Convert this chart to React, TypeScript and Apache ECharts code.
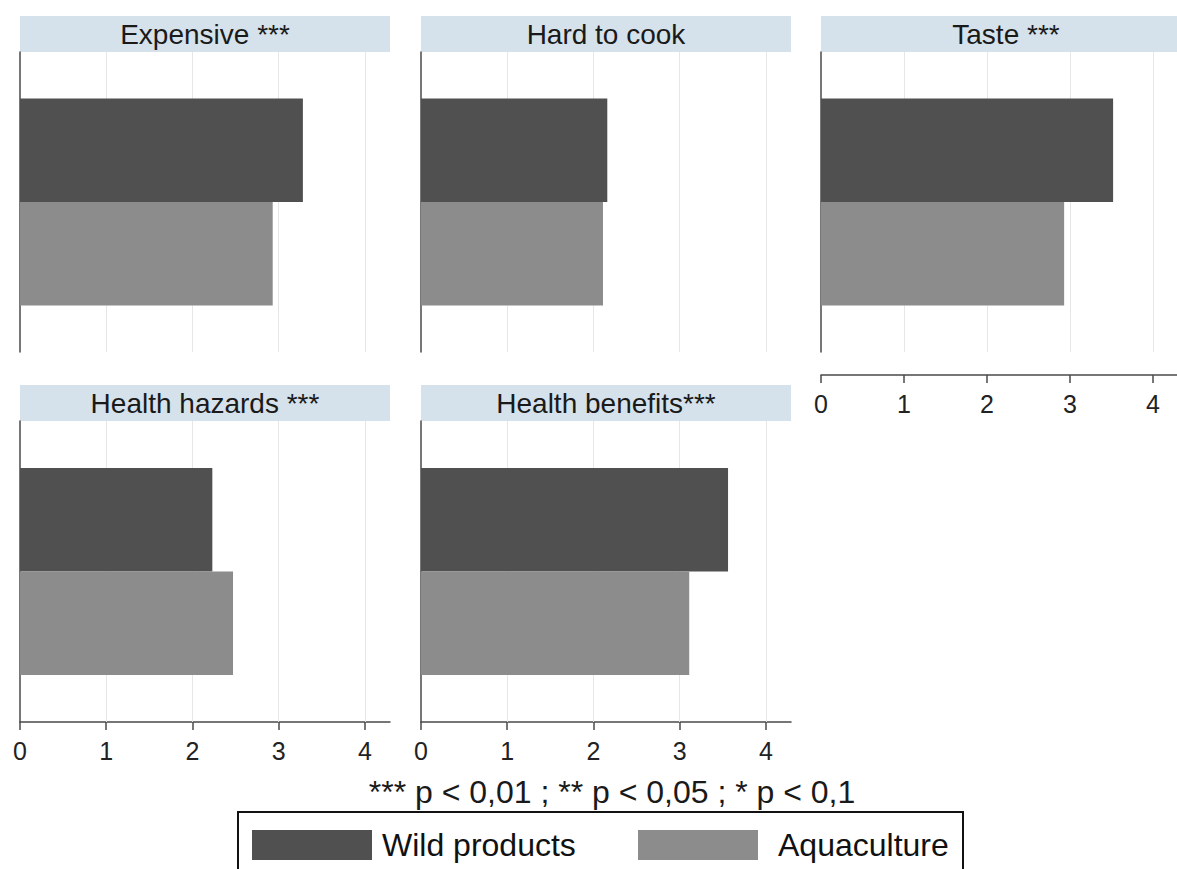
import React, { useEffect, useRef } from 'react';
import * as echarts from 'echarts';

// ---------- data ----------
const PANELS = ['Expensive ***', 'Hard to cook', 'Taste ***', 'Health hazards ***', 'Health benefits***'];
const SERIES_NAMES = ['Wild products', 'Aquaculture'];
const WILD = [3.28, 2.16, 3.52, 2.23, 3.56];
const AQUA = [2.93, 2.11, 2.93, 2.47, 3.11];
const TICKS = [0, 1, 2, 3, 4];
const GRIDLINES = [1, 2, 3, 4];
const NOTE = '*** p < 0,01 ; ** p < 0,05 ; * p < 0,1';
const X_MAX = 4.29;

// ---------- layout / style ----------
const FONT = "'Liberation Sans', Arial, sans-serif";
const COL_X = [20, 421, 821];
const PLOT_W = 370;
const STRIP_TOP = [16, 385];
const STRIP_H = 36;
const PLOT_H = [300, 301];
const AXIS_PANELS = [2, 3, 4];
const AXIS_OFFSET = [0, 0, 23, 0, 0];
const COLORS = ['#505050', '#8c8c8c'];
const AXIS_COLOR = '#4a4a4a';
const GRID_COLOR = '#e6e6e6';
const STRIP_COLOR = '#d6e2eb';

export default function App() {
  const ref = useRef<HTMLDivElement>(null);

  useEffect(() => {
    if (!ref.current) return;
    const chart = echarts.init(ref.current, undefined, { renderer: 'svg' });

    const grids: any[] = [];
    const xAxes: any[] = [];
    const yAxes: any[] = [];
    const series: any[] = [];
    const titles: any[] = [];
    const graphics: any[] = [];

    PANELS.forEach((name, i) => {
      const row = i < 3 ? 0 : 1;
      const col = i % 3;
      const left = COL_X[col];
      const top = STRIP_TOP[row] + STRIP_H;
      grids.push({ left, top, width: PLOT_W, height: PLOT_H[row] });
      const showAxis = AXIS_PANELS.includes(i);
      xAxes.push({
        type: 'value',
        gridIndex: i,
        min: 0,
        max: X_MAX,
        interval: 1,
        offset: AXIS_OFFSET[i],
        axisLine: { show: showAxis, onZero: false, lineStyle: { color: AXIS_COLOR, width: 1.5 } },
        axisTick: { show: showAxis, length: 8, customValues: TICKS, lineStyle: { color: AXIS_COLOR, width: 1.5 } },
        axisLabel: {
          show: showAxis,
          customValues: TICKS,
          fontSize: 25,
          color: '#222',
          margin: 16,
          fontFamily: FONT,
        },
        splitLine: { show: false },
      });
      yAxes.push({
        type: 'category',
        gridIndex: i,
        data: [name],
        axisLine: { show: true, lineStyle: { color: AXIS_COLOR, width: 1.5 } },
        axisTick: { show: false },
        axisLabel: { show: false },
        splitLine: { show: false },
      });
      const vals = [WILD[i], AQUA[i]];
      SERIES_NAMES.forEach((sn, k) => {
        const s: any = {
          type: 'bar',
          name: sn,
          xAxisIndex: i,
          yAxisIndex: i,
          data: [vals[k]],
          barWidth: 103.5,
          barGap: 0,
          itemStyle: { color: COLORS[k] },
          z: 2,
        };
        if (k === 0) {
          s.markLine = {
            silent: true,
            z: 1,
            symbol: ['none', 'none'],
            label: { show: false },
            lineStyle: { color: GRID_COLOR, width: 1, type: 'solid' },
            emphasis: { disabled: true },
            data: GRIDLINES.map((v) => ({ xAxis: v })),
          };
        }
        series.push(s);
      });
      graphics.push({
        type: 'rect',
        z: 0,
        shape: { x: left, y: STRIP_TOP[row], width: PLOT_W, height: STRIP_H },
        style: { fill: STRIP_COLOR },
      });
      titles.push({
        text: name,
        left: left + PLOT_W / 2,
        top: STRIP_TOP[row],
        textAlign: 'center',
        padding: 0,
        textStyle: { fontSize: 28, fontWeight: 'normal', color: '#1a1a1a', lineHeight: STRIP_H, fontFamily: FONT },
      });
    });

    titles.push({
      text: NOTE,
      left: 612,
      top: 775,
      textAlign: 'center',
      padding: 0,
      textStyle: { fontSize: 32, fontWeight: 'normal', color: '#1a1a1a', lineHeight: 34, fontFamily: FONT },
    });

    graphics.push({
      type: 'rect',
      z: 0,
      shape: { x: 238, y: 812, width: 725, height: 80 },
      style: { fill: 'none', stroke: '#111', lineWidth: 2 },
    });

    const legendBase = {
      top: 829,
      padding: 0,
      itemWidth: 120,
      itemHeight: 30,
      icon: 'rect',
      selectedMode: false,
    };

    chart.setOption({
      animation: false,
      backgroundColor: '#ffffff',
      title: titles,
      grid: grids,
      xAxis: xAxes,
      yAxis: yAxes,
      series,
      graphic: graphics,
      legend: [
        {
          ...legendBase,
          data: [SERIES_NAMES[0]],
          left: 252,
          textStyle: { fontSize: 32, color: '#111', fontFamily: FONT, padding: [0, 0, 0, 5] },
        },
        {
          ...legendBase,
          data: [SERIES_NAMES[1]],
          left: 638,
          textStyle: { fontSize: 32, color: '#111', fontFamily: FONT, padding: [0, 0, 0, 15] },
        },
      ],
    });

    return () => chart.dispose();
  }, []);

  return (
    <div
      ref={ref}
      style={{ position: 'absolute', left: 0, top: 0, width: 1177, height: 869 }}
    />
  );
}
